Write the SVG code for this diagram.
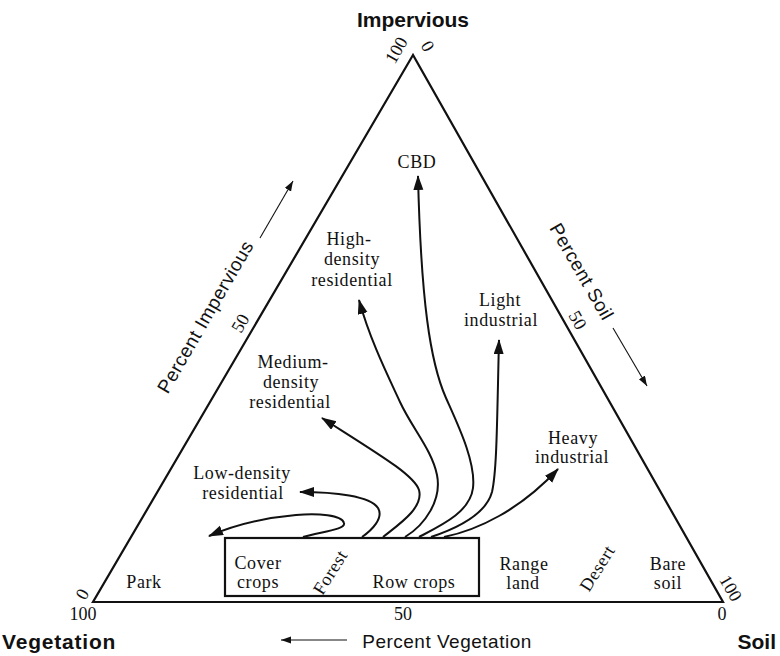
<svg xmlns="http://www.w3.org/2000/svg" width="780" height="656" viewBox="0 0 780 656">
  <style>
    .edge { fill: none; stroke: #111; stroke-width: 2.2; stroke-linejoin: miter; }
    .flow { fill: none; stroke: #111; stroke-width: 2; marker-end: url(#head); }
    .axis { fill: none; stroke: #111; stroke-width: 1.1; marker-end: url(#small); }
    .lbl { font-family: "Liberation Serif", "Times New Roman", serif; font-size: 18px; fill: #111; text-anchor: middle; letter-spacing: 0.6px; }
    .num { font-family: "Liberation Serif", "Times New Roman", serif; font-size: 18px; fill: #111; text-anchor: middle; }
    .ax { font-family: "Liberation Sans", Arial, sans-serif; font-size: 19px; fill: #111; text-anchor: middle; letter-spacing: 0.5px; }
    .corner { font-family: "Liberation Sans", Arial, sans-serif; font-size: 21px; font-weight: bold; fill: #111; }
  </style>
  <defs>
    <marker id="head" markerUnits="userSpaceOnUse" markerWidth="16" markerHeight="12" refX="14" refY="5" orient="auto">
      <path d="M0,0 L15,5 L0,10 Z" fill="#111"/>
    </marker>
    <marker id="small" markerUnits="userSpaceOnUse" markerWidth="12" markerHeight="8" refX="10" refY="3.5" orient="auto">
      <path d="M0,0 L10,3.5 L0,7 Z" fill="#111"/>
    </marker>
  </defs>

  <rect width="780" height="656" fill="#fff"/>

  <!-- ternary frame -->
  <g id="triangle">
    <path class="edge" d="M413,55 L93,602 L723,602 Z"/>
  </g>

  <!-- corner titles -->
  <g id="corner-impervious">
    <text class="corner" x="413" y="27" text-anchor="middle">Impervious</text>
  </g>
  <g id="corner-vegetation">
    <text class="corner" x="2" y="649" letter-spacing="0.8">Vegetation</text>
  </g>
  <g id="corner-soil">
    <text class="corner" x="776" y="649" text-anchor="end">Soil</text>
  </g>

  <!-- scale numbers -->
  <g id="scale">
    <text class="num" transform="translate(396,50) rotate(-60)" dy="0.35em">100</text>
    <text class="num" transform="translate(428,46) rotate(60)" dy="0.35em">0</text>
    <text class="num" transform="translate(240,323) rotate(-60)" dy="0.35em">50</text>
    <text class="num" transform="translate(578,320) rotate(60)" dy="0.35em">50</text>
    <text class="num" transform="translate(82,594) rotate(-60)" dy="0.35em">0</text>
    <text class="num" transform="translate(731,588) rotate(60)" dy="0.35em">100</text>
    <text class="num" x="83" y="620">100</text>
    <text class="num" x="403" y="620">50</text>
    <text class="num" x="722" y="620">0</text>
  </g>

  <!-- axis titles with direction arrows -->
  <g id="axis-impervious">
    <text class="ax" transform="translate(211,320) rotate(-60)">Percent Impervious</text>
    <path class="axis" d="M260,238 L293,181"/>
  </g>
  <g id="axis-soil">
    <text class="ax" transform="translate(576,275) rotate(60)">Percent Soil</text>
    <path class="axis" d="M613,328 L647,386"/>
  </g>
  <g id="axis-vegetation">
    <text class="ax" x="447" y="648">Percent Vegetation</text>
    <path class="axis" d="M347,640 L281,640"/>
  </g>

  <!-- land cover box and base classes -->
  <g id="box">
    <rect x="225" y="538" width="254" height="58" fill="none" stroke="#111" stroke-width="2.2"/>
  </g>
  <g id="park"><text class="lbl" x="144" y="588">Park</text></g>
  <g id="cover-crops"><text class="lbl" x="258" y="569">Cover</text><text class="lbl" x="258" y="588">crops</text></g>
  <g id="forest"><text class="lbl" transform="translate(330,572) rotate(-58)" dy="0.35em">Forest</text></g>
  <g id="row-crops"><text class="lbl" x="414" y="588">Row crops</text></g>
  <g id="range-land"><text class="lbl" x="524" y="570">Range</text><text class="lbl" x="523" y="589">land</text></g>
  <g id="desert"><text class="lbl" transform="translate(597,568) rotate(-58)" dy="0.35em">Desert</text></g>
  <g id="bare-soil"><text class="lbl" x="668" y="570">Bare</text><text class="lbl" x="668" y="589">soil</text></g>

  <!-- urban classes -->
  <g id="cbd"><text class="lbl" x="417" y="168">CBD</text></g>
  <g id="high-density"><text class="lbl" x="349" y="245">High-</text><text class="lbl" x="352" y="265">density</text><text class="lbl" x="352" y="286">residential</text></g>
  <g id="light-industrial"><text class="lbl" x="500" y="306">Light</text><text class="lbl" x="501" y="326">industrial</text></g>
  <g id="medium-density"><text class="lbl" x="293" y="368">Medium-</text><text class="lbl" x="291" y="388">density</text><text class="lbl" x="290" y="408">residential</text></g>
  <g id="heavy-industrial"><text class="lbl" x="573" y="444">Heavy</text><text class="lbl" x="572" y="463">industrial</text></g>
  <g id="low-density"><text class="lbl" x="242" y="479">Low-density</text><text class="lbl" x="243" y="499">residential</text></g>

  <!-- conversion paths -->
  <g id="connectors">
    <path class="flow" d="M303,537 C318,532 346,530 344,523 C342,515 318,513 296,515 C262,518 232,526 209,536"/>
    <path class="flow" d="M362,537 C372,530 384,518 378,508 C370,496 335,492 300,492"/>
    <path class="flow" d="M383,537 C398,525 424,508 419,490 C414,475 380,455 322,418"/>
    <path class="flow" d="M405,537 C425,525 442,500 437,475 C432,450 412,428 400,402 C388,376 370,340 359,300"/>
    <path class="flow" d="M419,537 C442,525 470,512 473,488 C476,462 458,425 446,398 C430,362 421,300 418,176"/>
    <path class="flow" d="M431,537 C458,528 486,514 492,492 C497,470 497,420 499,340"/>
    <path class="flow" d="M444,537 C478,530 520,510 558,469"/>
  </g>
</svg>
